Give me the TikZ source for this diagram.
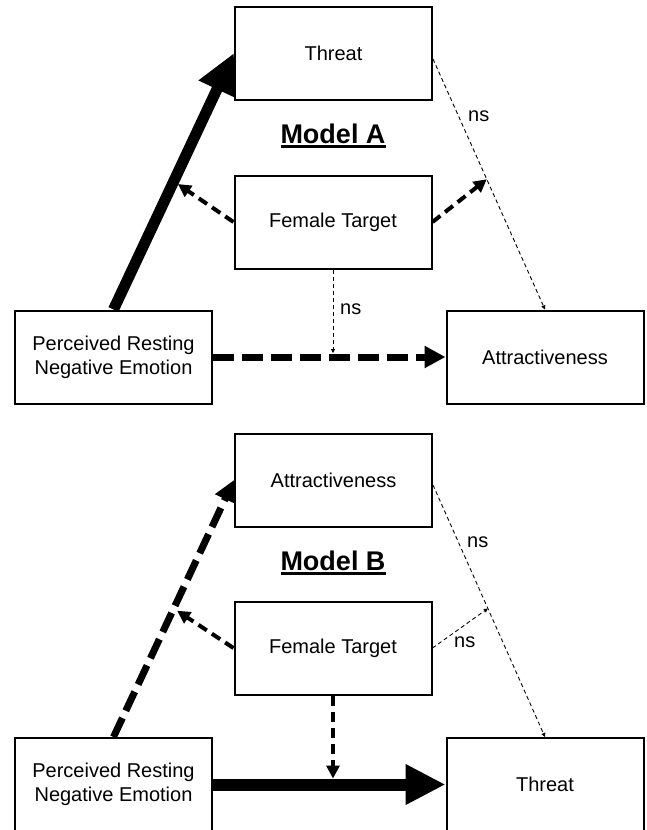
\documentclass[tikz,border=0pt]{standalone}
\usepackage{fontspec}
\setmainfont{Liberation Sans}
\usepackage{tikz}
\usetikzlibrary{calc,arrows.meta}

% thick underline for the model titles
\newcommand{\modelul}[1]{\setbox0\hbox{#1}\rlap{\copy0}\rule[-4.5pt]{\wd0}{2.4pt}}

\tikzset{
    box/.style={draw, line width=2pt, fill=white, minimum width=197pt, minimum height=93pt,
        inner sep=0pt, align=center, font=\fontsize{20}{24}\selectfont},
    nslabel/.style={anchor=base west, inner sep=0pt, font=\fontsize{20}{24}\selectfont},
    modellabel/.style={anchor=base, inner sep=0pt, font=\bfseries\fontsize{27}{30}\selectfont},
    bigpath/.style={line width=11pt, -{Triangle[length=40pt,width=38pt]}},
    bigdash/.style={line width=7pt, dash pattern=on 21pt off 8pt, -{Triangle[length=21pt,width=21pt]}},
    middash/.style={line width=4pt, dash pattern=on 10pt off 6pt, -{Triangle[length=13pt,width=13pt]}},
    thindash/.style={line width=0.9pt, dash pattern=on 4pt off 3pt, -{Triangle[length=4pt,width=4pt]}}
}

\begin{document}
\begin{tikzpicture}[x=1pt, y=-1pt]
    \useasboundingbox (0,0) rectangle (646,830);
    \clip (0,0) rectangle (646,830);

    % Model A
    \node[box] (thA) at (333.5,53) {Threat};
    \node[box] (fA) at (333,222) {Female Target};
    \node[box] (pA) at (113.5,357) {Perceived Resting\\Negative Emotion};
    \node[box] (aA) at (545,357) {Attractiveness};
    \node[modellabel] (mdlA) at (333,143) {\modelul{Model A}};

    \coordinate (mA1) at ($(pA.north)!0.5!(thA.west)$);
    \coordinate (mA2) at ($([yshift=-6pt]thA.east)!0.48!(aA.north)$);
    \coordinate (mA3) at (pA.east -| fA.south);

    \draw[bigpath] (pA.north) -- (thA.west);
    \draw[thindash] ([yshift=-6pt]thA.east) -- (aA.north);
    \draw[bigdash] (pA.east) -- (aA.west);
    \draw[middash, shorten >=5pt] (fA.west) -- (mA1);
    \draw[middash] (fA.east) -- (mA2);
    \draw[thindash, shorten >=4pt] (fA.south) -- (mA3);

    \node[nslabel] (nsA1) at (468,121) {ns};
    \node[nslabel] (nsA2) at (340,314) {ns};

    % Model B
    \node[box] (atB) at (333.5,480) {Attractiveness};
    \node[box] (fB) at (333,648) {Female Target};
    \node[box] (pB) at (113.5,784.5) {Perceived Resting\\Negative Emotion};
    \node[box] (thB) at (545,784.5) {Threat};
    \node[modellabel] (mdlB) at (333,570) {\modelul{Model B}};

    \coordinate (mB1) at ($(pB.north)!0.5!(atB.west)$);
    \coordinate (mB2) at ($([yshift=-5pt]atB.east)!0.49!(thB.north)$);
    \coordinate (mB3) at (pB.east -| fB.south);

    \draw[bigdash] (pB.north) -- (atB.west);
    \draw[thindash] ([yshift=-5pt]atB.east) -- (thB.north);
    \draw[bigpath, line width=12pt] (pB.east) -- (thB.west);
    \draw[middash, shorten >=4pt] (fB.west) -- (mB1);
    \draw[thindash] (fB.east) -- (mB2);
    \draw[middash, shorten >=6pt] (fB.south) -- (mB3);

    \node[nslabel] (nsB1) at (467,547) {ns};
    \node[nslabel] (nsB2) at (454,647) {ns};
\end{tikzpicture}
\end{document}
